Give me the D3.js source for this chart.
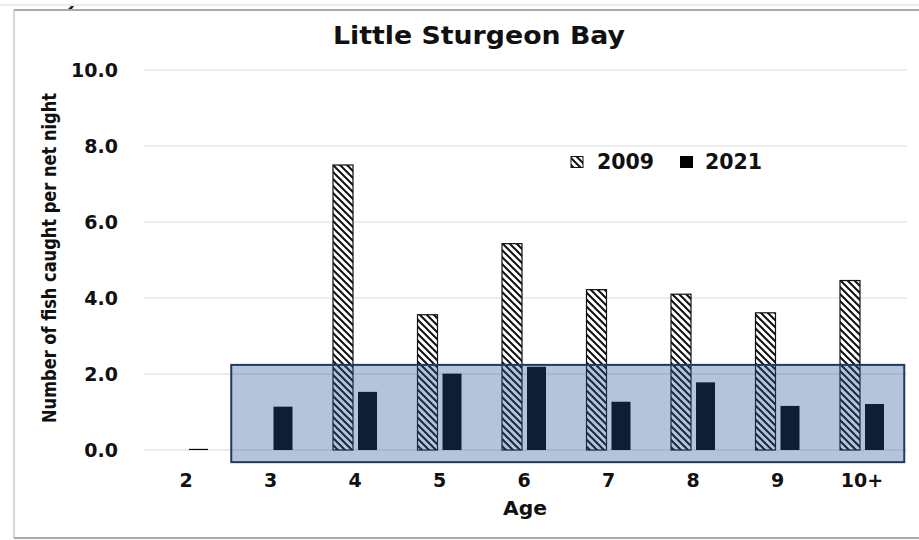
<!DOCTYPE html>
<html><head><meta charset="utf-8">
<script src="https://cdn.jsdelivr.net/npm/d3@7"></script>
<style>
html,body{margin:0;padding:0;background:#fff;}
svg{display:block;}
text{font-family:"DejaVu Sans",sans-serif;font-weight:700;fill:#111;}
</style></head>
<body>
<svg id="chart" width="919" height="540"></svg>
<script>
const ages = ["2","3","4","5","6","7","8","9","10+"];
const series = ["2009","2021"];
const values2009 = [0, 0, 7.5, 3.56, 5.43, 4.22, 4.1, 3.61, 4.46];
const values2021 = [0.03, 1.14, 1.53, 2.01, 2.19, 1.27, 1.78, 1.16, 1.21];
const yTicks = [0, 2, 4, 6, 8, 10];
const highlightRange = [-0.32, 2.24];
const titleText = "Little Sturgeon Bay";
const yLabel = "Number of fish caught per net night";
const xLabel = "Age";

const svg = d3.select("#chart");
const x = d3.scaleBand().domain(ages).range([143.75, 904.25]).padding(0);
const x1 = d3.scaleBand().domain(series).range([-22, 23]).paddingInner(0.2);
const y = d3.scaleLinear().domain([0, 10]).range([450, 70]);

// frame
svg.append("line").attr("x1",0).attr("x2",919).attr("y1",5).attr("y2",5).attr("stroke","#e6e6e6").attr("stroke-width",1.5);
svg.append("line").attr("x1",14).attr("x2",919).attr("y1",10).attr("y2",10).attr("stroke","#8c8c8c").attr("stroke-width",1.5);
svg.append("line").attr("x1",14).attr("x2",14).attr("y1",10).attr("y2",538).attr("stroke","#b0b0b0").attr("stroke-width",1);
svg.append("line").attr("x1",14).attr("x2",919).attr("y1",538).attr("y2",538).attr("stroke","#8c8c8c").attr("stroke-width",1.5);
svg.append("path").attr("d","M68,9 L71,6 L74,6 L72,9 Z").attr("fill","#222");

// pattern
const defs = svg.append("defs");
const pat = defs.append("pattern").attr("id","hatch").attr("patternUnits","userSpaceOnUse")
  .attr("width",7).attr("height",7);
pat.append("rect").attr("width",7).attr("height",7).attr("fill","#fff");
pat.append("path").attr("d","M0,0 L7,7 M-2,5 L2,9 M5,-2 L9,2")
  .attr("stroke","#111").attr("stroke-width",2);

// gridlines
svg.append("g").selectAll("line").data(yTicks).join("line")
  .attr("x1",144).attr("x2",907)
  .attr("y1",d=>y(d)).attr("y2",d=>y(d))
  .attr("stroke","#d9d9d9").attr("stroke-width",1);

// y axis tick labels
const yAxis = d3.axisLeft(y).tickValues(yTicks).tickFormat(d3.format(".1f")).tickSize(0).tickPadding(0);
const gy = svg.append("g").attr("transform","translate(118,0)").call(yAxis);
gy.select(".domain").remove();
gy.selectAll("text").attr("font-size",19).attr("font-family","'DejaVu Sans',sans-serif").attr("font-weight",700).attr("fill","#111").attr("dy","0.36em");

// x axis tick labels
const xAxis = d3.axisBottom(x).tickSize(0).tickPadding(0);
const gx = svg.append("g").attr("transform","translate(0,473)").call(xAxis);
gx.select(".domain").remove();
gx.selectAll("text").attr("font-size",19).attr("font-family","'DejaVu Sans',sans-serif").attr("font-weight",700).attr("fill","#111").attr("dy","0.73em");

// bars
const data = ages.map((a,i)=>({age:a, v2009:values2009[i], v2021:values2021[i]}));
svg.append("g").selectAll("rect").data(data.filter(d=>d.v2009>0)).join("rect")
  .attr("x",d=>x(d.age)+x.bandwidth()/2+x1("2009"))
  .attr("width",x1.bandwidth())
  .attr("y",d=>y(d.v2009))
  .attr("height",d=>y(0)-y(d.v2009))
  .attr("fill","url(#hatch)").attr("stroke","#111").attr("stroke-width",1.2);
svg.append("g").selectAll("rect").data(data).join("rect")
  .attr("x",d=>x(d.age)+x.bandwidth()/2+x1("2021"))
  .attr("width",x1.bandwidth()-1)
  .attr("y",d=>y(d.v2021))
  .attr("height",d=>y(0)-y(d.v2021))
  .attr("fill","#000");

// highlight rect
svg.append("rect")
  .attr("x",x("3")+3).attr("y",y(highlightRange[1]))
  .attr("width",x.range()[1]-(x("3")+3))
  .attr("height",y(highlightRange[0])-y(highlightRange[1]))
  .attr("fill","#2f5597").attr("fill-opacity",0.35)
  .attr("stroke","#1f3864").attr("stroke-width",2);

// title
svg.append("text").attr("x",479).attr("y",44).attr("text-anchor","middle").attr("font-size",25)
  .attr("textLength",292).attr("lengthAdjust","spacingAndGlyphs").text(titleText);
// axis labels
svg.append("text").attr("transform","translate(56,258) rotate(-90)").attr("text-anchor","middle").attr("font-size",19)
  .attr("textLength",330).attr("lengthAdjust","spacingAndGlyphs").text(yLabel);
svg.append("text").attr("x",525).attr("y",515).attr("text-anchor","middle").attr("font-size",19)
  .attr("textLength",44).attr("lengthAdjust","spacingAndGlyphs").text(xLabel);

// legend
const leg = svg.append("g");
leg.append("rect").attr("x",571).attr("y",156.5).attr("width",12).attr("height",11).attr("fill","url(#hatch)").attr("stroke","#111").attr("stroke-width",1);
leg.append("text").attr("x",597).attr("y",169).attr("font-size",20.5).text(series[0]);
leg.append("rect").attr("x",680).attr("y",156).attr("width",13).attr("height",12).attr("fill","#000");
leg.append("text").attr("x",705).attr("y",169).attr("font-size",20.5).text(series[1]);
</script>
</body></html>
